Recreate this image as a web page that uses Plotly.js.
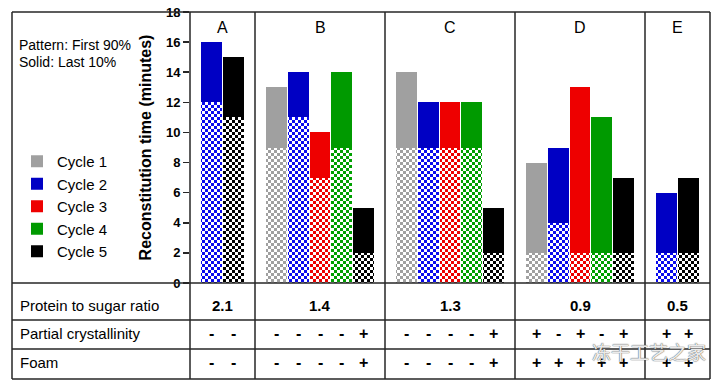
<!DOCTYPE html>
<html><head><meta charset="utf-8">
<script src="https://cdn.plot.ly/plotly-3.0.1.min.js"></script>
<style>html,body{margin:0;padding:0;background:#fff;} #chart{width:727px;height:386px;}</style>
</head><body><div id="chart"></div>
<script>
// ---------------- data ----------------
const groups = ['A', 'B', 'C', 'D', 'E'];
const proteinSugarRatio = ['2.1', '1.4', '1.3', '0.9', '0.5'];
const cycleNames = ['Cycle 1', 'Cycle 2', 'Cycle 3', 'Cycle 4', 'Cycle 5'];
// which cycles are shown in each group (in order)
const groupCycles = [[2, 5], [1, 2, 3, 4, 5], [1, 2, 3, 4, 5], [1, 2, 3, 4, 5], [2, 5]];
// total reconstitution time (minutes) per group
const cycle1Total = [null, 13, 14, 8, null];
const cycle2Total = [16, 14, 12, 9, 6];
const cycle3Total = [null, 10, 12, 13, null];
const cycle4Total = [null, 14, 12, 11, null];
const cycle5Total = [15, 5, 5, 7, 7];
// time for first 90% (patterned part) per group
const cycle1Pattern = [null, 9, 9, 2, null];
const cycle2Pattern = [12, 11, 9, 4, 2];
const cycle3Pattern = [null, 7, 9, 2, null];
const cycle4Pattern = [null, 9, 9, 2, null];
const cycle5Pattern = [11, 2, 2, 2, 2];
// table rows
const rowLabels = ['Protein to sugar ratio', 'Partial crystallinity', 'Foam'];
const crystallinity = [['-', '-'], ['-', '-', '-', '-', '+'], ['-', '-', '-', '-', '+'], ['+', '-', '+', '-', '+'], ['+', '+']];
const foam = [['-', '-'], ['-', '-', '-', '-', '+'], ['-', '-', '-', '-', '+'], ['+', '+', '+', '+', '+'], ['+', '+']];
const noteLines = ['Pattern: First 90%', 'Solid: Last 10%'];
const watermark = '冻干工艺之家';

// ---------------- styles ----------------
const solidColors = ['#a0a0a0', '#0000c4', '#ee0000', '#009a00', '#000000'];
const checkColors = ['#a0a0a0', '#0a0aee', '#ee0000', '#00a000', '#000000'];
const FONT = 'Liberation Sans, Arial, Helvetica, sans-serif';
const LINE = '#262626';

const totals = [cycle1Total, cycle2Total, cycle3Total, cycle4Total, cycle5Total];
const patterns = [cycle1Pattern, cycle2Pattern, cycle3Pattern, cycle4Pattern, cycle5Pattern];

// slot layout: each group gets (n + 1) slots
const groupSize = groupCycles.map(g => g.length);
const groupStart = [];
let acc = 0;
groupSize.forEach(n => { groupStart.push(acc); acc += n + 1; });
const xMax = acc;
const slotX = (gi, k) => groupStart[gi] + 1 + k;
const groupCenter = gi => groupStart[gi] + (groupSize[gi] + 1) / 2;

const traces = [];
cycleNames.forEach((name, ci) => {
  const xs = [], yp = [], ys = [];
  groups.forEach((g, gi) => {
    const k = groupCycles[gi].indexOf(ci + 1);
    if (k < 0) return;
    xs.push(slotX(gi, k));
    yp.push(patterns[ci][gi]);
    ys.push(totals[ci][gi] - patterns[ci][gi]);
  });
  traces.push({
    type: 'bar', x: xs, y: yp, base: 0, width: 0.96,
    legendgroup: name, showlegend: false, hoverinfo: 'skip',
    marker: {color: '#ffffff', line: {width: 0},
      pattern: {shape: '.', fgcolor: checkColors[ci], bgcolor: '#ffffff', size: 6, solidity: 0.5, fillmode: 'replace'}}
  });
  traces.push({
    type: 'bar', x: xs, y: ys, base: yp, width: 0.96, name: name,
    legendgroup: name, showlegend: true, hoverinfo: 'skip',
    marker: {color: solidColors[ci], line: {width: 0}}
  });
});

// pixel helpers for frame (paper coords)
const L = 190, R = 710, T = 12, B = 283;
const px = x => (x - L) / (R - L);
const py = y => (B - y) / (B - T);

const shapes = [];
const ln = (x0, y0, x1, y1, xref) => shapes.push({type: 'line', xref: xref || 'paper', yref: 'paper',
  x0, y0, x1, y1, line: {color: LINE, width: 1.5}, layer: 'above'});
const left = px(12), bottom = py(379);
ln(left, 1, 1, 1);
ln(left, bottom, 1, bottom);
ln(left, 1, left, bottom);
ln(1, 1, 1, bottom);
ln(left, 0, 1, 0);
ln(left, py(320), 1, py(320));
ln(left, py(349), 1, py(349));
ln(0, 1, 0, bottom);
groupStart.slice(1).forEach(s => ln(s, 1, s, bottom, 'x'));

const annotations = [];
const txt = (text, x, y, opts) => annotations.push(Object.assign({text, x, y, xref: 'paper', yref: 'paper',
  showarrow: false, xanchor: 'left', yanchor: 'middle', font: {family: FONT, size: 15, color: '#000'}}, opts || {}));

groups.forEach((g, gi) => txt(g, groupCenter(gi), 17, {xref: 'x', yref: 'y', xanchor: 'center', font: {family: FONT, size: 16, color: '#000'}}));
noteLines.forEach((t, i) => txt(t, px(17), py(45 + i * 17), {font: {family: FONT, size: 14, color: '#000'}}));
const rowY = [py(305), py(334), py(362)];
rowLabels.forEach((t, i) => txt(t, px(18), rowY[i]));
groups.forEach((g, gi) => {
  txt(proteinSugarRatio[gi], groupCenter(gi), rowY[0], {xref: 'x', xanchor: 'center', font: {family: FONT, size: 15, color: '#000', weight: 'bold'}});
  crystallinity[gi].forEach((s, k) => txt(s, slotX(gi, k), rowY[1], {xref: 'x', xanchor: 'center', font: {family: FONT, size: 16, color: '#000', weight: 'bold'}}));
  foam[gi].forEach((s, k) => txt(s, slotX(gi, k), rowY[2], {xref: 'x', xanchor: 'center', font: {family: FONT, size: 16, color: '#000', weight: 'bold'}}));
});
txt(watermark, px(649), py(352), {xanchor: 'center', font: {family: 'Noto Sans CJK SC', size: 19, color: 'rgba(255,255,255,0.9)', shadow: '0 0 1px #555, 0 0 1px #555'}});

const layout = {
  width: 727, height: 386,
  margin: {l: L, r: 727 - R, t: T, b: 386 - B},
  paper_bgcolor: '#fff', plot_bgcolor: 'rgba(0,0,0,0)',
  barmode: 'overlay', bargap: 0,
  showlegend: true,
  legend: {x: px(17), y: py(145), xanchor: 'left', yanchor: 'top', bgcolor: 'rgba(0,0,0,0)',
    font: {family: FONT, size: 15, color: '#000'}, tracegroupgap: 1.5, traceorder: 'normal'},
  xaxis: {range: [0, xMax], visible: false, fixedrange: true},
  yaxis: {range: [0, 18], dtick: 2, ticks: 'outside', ticklen: 6, tickwidth: 1.5, tickcolor: LINE,
    showgrid: false, zeroline: false, showline: false, fixedrange: true,
    tickfont: {family: FONT, size: 13, color: '#000', weight: 'bold'},
    title: {text: 'Reconstitution time (minutes)', standoff: 10, font: {family: FONT, size: 16, color: '#000', weight: 'bold'}}},
  shapes, annotations
};

function checker(gd) {
  gd.querySelectorAll('pattern').forEach(p => {
    const child = p.querySelector('circle, path');
    let fg = child ? (child.getAttribute('fill') || child.style.fill || getComputedStyle(child).fill) : '#000';
    if (!fg || fg === 'none') fg = '#000';
    const ns = 'http://www.w3.org/2000/svg';
    p.setAttribute('width', 6); p.setAttribute('height', 6);
    while (p.firstChild) p.removeChild(p.firstChild);
    const mk = (x, y, w, h, c) => { const r = document.createElementNS(ns, 'rect');
      r.setAttribute('x', x); r.setAttribute('y', y); r.setAttribute('width', w); r.setAttribute('height', h);
      r.setAttribute('fill', c); r.setAttribute('shape-rendering', 'crispEdges'); p.appendChild(r); };
    mk(0, 0, 6, 6, '#ffffff');
    mk(0, 0, 3, 3, fg);
    mk(3, 3, 3, 3, fg);
  });
}

Plotly.newPlot('chart', traces, layout, {staticPlot: true, displayModeBar: false}).then(checker);
</script>
</body></html>
